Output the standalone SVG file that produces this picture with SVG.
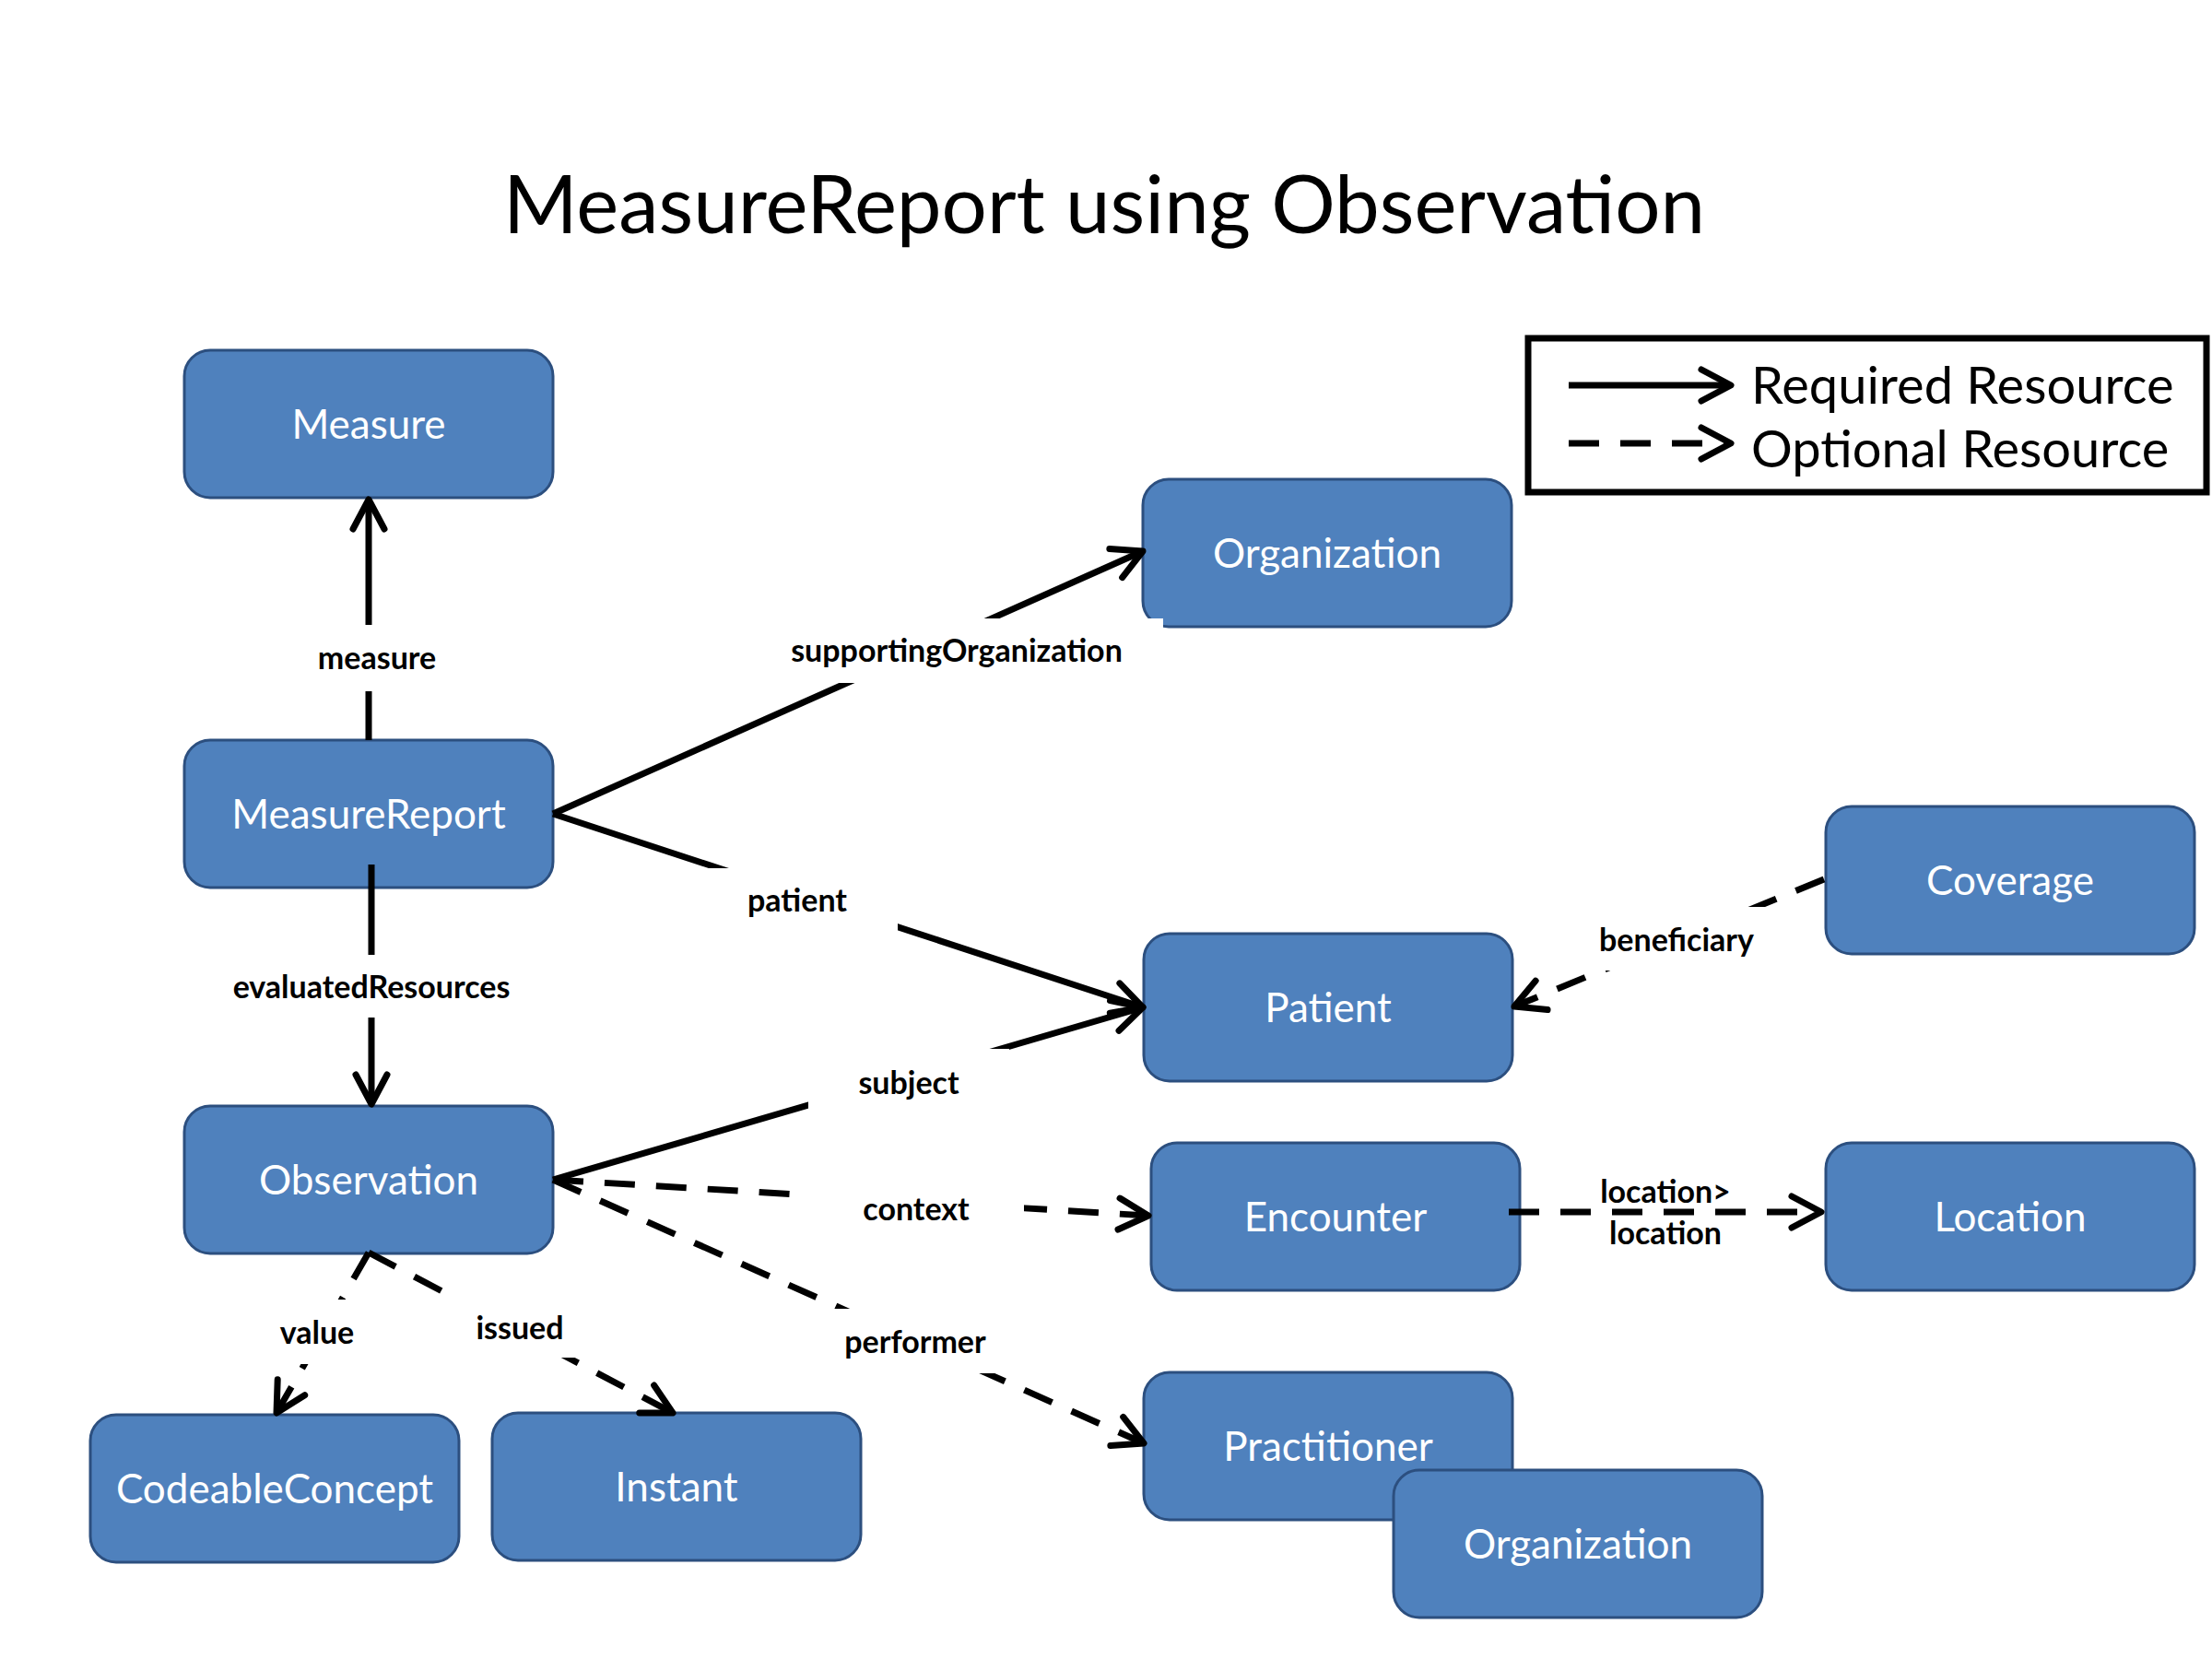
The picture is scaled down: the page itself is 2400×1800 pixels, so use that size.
<svg xmlns="http://www.w3.org/2000/svg" width="2400" height="1800" viewBox="0 0 2400 1800">
<style>
.node rect{fill:#4F81BD;stroke:#2C4F7F;stroke-width:3}
.node text{fill:#fff;font-family:Lato,"Open Sans",sans-serif;font-size:44px;text-anchor:middle}
.ln{stroke:#000;stroke-width:7;fill:none}
.dash{stroke-dasharray:33 23}
.lbl{font-family:Lato,"Open Sans",sans-serif;font-weight:bold;font-size:34px;text-anchor:middle;fill:#000}
.bg{fill:#fff}
.title{font-family:Lato,"Open Sans",sans-serif;font-size:87px;text-anchor:middle;fill:#000}
.leg{font-family:Lato,"Open Sans",sans-serif;font-size:56px;fill:#000}
</style>
<defs>
<marker id="arr" markerUnits="userSpaceOnUse" markerWidth="48" markerHeight="48" viewBox="0 0 48 48" refX="40" refY="24" orient="auto" overflow="visible">
<path d="M8,7 L40,24 L8,41" fill="none" stroke="#000" stroke-width="7" stroke-linecap="round" stroke-linejoin="round"/>
</marker>
</defs>
<rect width="2400" height="1800" fill="#fff"/>
<text class="title" x="1198" y="253">MeasureReport using Observation</text>

<g id="legend">
<rect x="1658" y="367" width="736" height="167" fill="none" stroke="#000" stroke-width="7"/>
<line class="ln" x1="1702" y1="418" x2="1878" y2="418" stroke-width="8" marker-end="url(#arr)"/>
<line class="ln dash" x1="1702" y1="481" x2="1878" y2="481" stroke-width="8" marker-end="url(#arr)"/>
<text class="leg" x="1900" y="438">Required Resource</text>
<text class="leg" x="1900" y="507">Optional Resource</text>
</g>

<g id="node-measure" class="node"><rect x="200" y="380" width="400" height="160" rx="28"/><text x="400" y="476">Measure</text></g>
<g id="node-measurereport" class="node"><rect x="200" y="803" width="400" height="160" rx="28"/><text x="400" y="899">MeasureReport</text></g>
<g id="node-observation" class="node"><rect x="200" y="1200" width="400" height="160" rx="28"/><text x="400" y="1296">Observation</text></g>
<g id="node-codeableconcept" class="node"><rect x="98" y="1535" width="400" height="160" rx="28"/><text x="298" y="1631">CodeableConcept</text></g>
<g id="node-instant" class="node"><rect x="534" y="1533" width="400" height="160" rx="28"/><text x="734" y="1629">Instant</text></g>
<g id="node-organization" class="node"><rect x="1240" y="520" width="400" height="160" rx="28"/><text x="1440" y="616">Organization</text></g>
<g id="node-patient" class="node"><rect x="1241" y="1013" width="400" height="160" rx="28"/><text x="1441" y="1109">Patient</text></g>
<g id="node-coverage" class="node"><rect x="1981" y="875" width="400" height="160" rx="28"/><text x="2181" y="971">Coverage</text></g>
<g id="node-encounter" class="node"><rect x="1249" y="1240" width="400" height="160" rx="28"/><text x="1449" y="1336">Encounter</text></g>
<g id="node-location" class="node"><rect x="1981" y="1240" width="400" height="160" rx="28"/><text x="2181" y="1336">Location</text></g>
<g id="node-practitioner" class="node"><rect x="1241" y="1489" width="400" height="160" rx="28"/><text x="1441" y="1585">Practitioner</text></g>
<g id="node-organization2" class="node"><rect x="1512" y="1595" width="400" height="160" rx="28"/><text x="1712" y="1691">Organization</text></g>

<g id="connectors">
<line class="ln" x1="400" y1="803" x2="400" y2="542" marker-end="url(#arr)"/>
<line class="ln" x1="403" y1="938" x2="403" y2="1198" marker-end="url(#arr)"/>
<line class="ln" x1="600" y1="883" x2="1240" y2="598" marker-end="url(#arr)"/>
<line class="ln" x1="600" y1="883" x2="1240" y2="1093" marker-end="url(#arr)"/>
<line class="ln" x1="600" y1="1280" x2="1240" y2="1093" marker-end="url(#arr)"/>
<line class="ln dash" x1="600" y1="1280" x2="1246" y2="1319" marker-end="url(#arr)"/>
<line class="ln dash" x1="600" y1="1280" x2="1241" y2="1566" marker-end="url(#arr)"/>
<line class="ln dash" x1="400" y1="1359" x2="300" y2="1533" marker-end="url(#arr)"/>
<line class="ln dash" x1="400" y1="1359" x2="730" y2="1533" marker-end="url(#arr)"/>
<line class="ln dash" x1="1979" y1="954" x2="1643" y2="1092" marker-end="url(#arr)"/>
<line class="ln dash" x1="1637" y1="1315" x2="1976" y2="1315" marker-end="url(#arr)"/>

<rect class="bg" x="285" y="678" width="246" height="72"/>
<text class="lbl" x="409" y="726">measure</text>
<rect class="bg" x="200" y="1036" width="406" height="68"/>
<text class="lbl" x="403" y="1083">evaluatedResources</text>
<rect class="bg" x="814" y="671" width="448" height="70"/>
<text class="lbl" x="1038" y="718">supportingOrganization</text>
<rect class="bg" x="756" y="942" width="218" height="70"/>
<text class="lbl" x="865" y="989">patient</text>
<rect class="bg" x="877" y="1138" width="218" height="69"/>
<text class="lbl" x="986" y="1187">subject</text>
<rect class="bg" x="879" y="1277" width="232" height="70"/>
<text class="lbl" x="994" y="1324">context</text>
<rect class="bg" x="865" y="1420" width="256" height="70"/>
<text class="lbl" x="993" y="1468">performer</text>
<rect class="bg" x="284" y="1410" width="120" height="70"/>
<text class="lbl" x="344" y="1458">value</text>
<rect class="bg" x="496" y="1403" width="136" height="70"/>
<text class="lbl" x="564" y="1453">issued</text>
<rect class="bg" x="1719" y="984" width="200" height="69"/>
<text class="lbl" x="1819" y="1032">beneficiary</text>
<text class="lbl" x="1807" y="1305">location&gt;</text>
<text class="lbl" x="1807" y="1350">location</text>
</g>
</svg>
